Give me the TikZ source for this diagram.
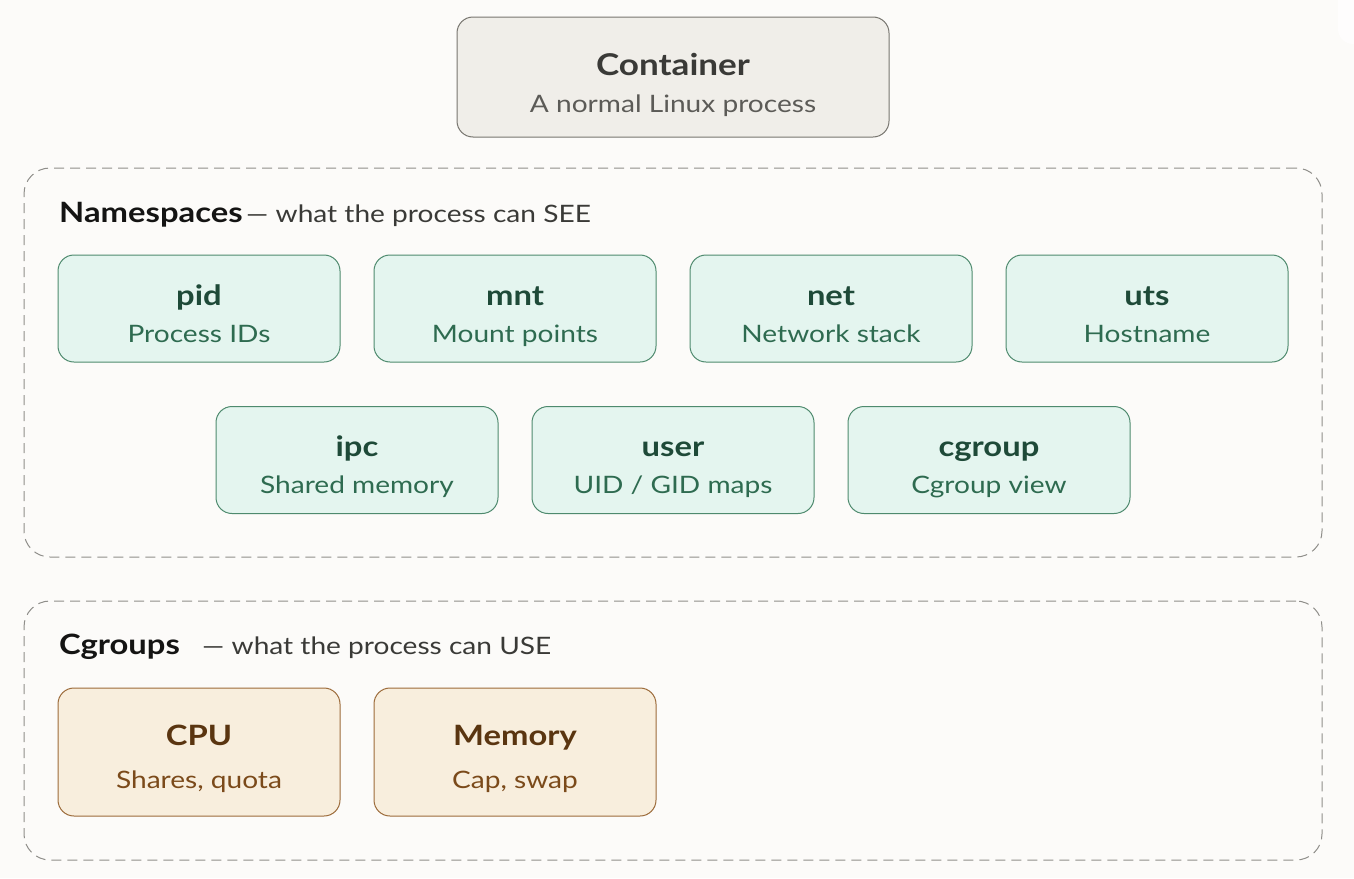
\documentclass[tikz,border=0pt]{standalone}
\usepackage{fontspec}
\setmainfont{Lato}[FakeStretch=1.17]
\definecolor{bg}{HTML}{FCFBF9}
\definecolor{ctfill}{HTML}{F0EEE9}
\definecolor{ctline}{HTML}{77756F}
\definecolor{cttitle}{HTML}{3A3A37}
\definecolor{ctsub}{HTML}{5C5B57}
\definecolor{nsfill}{HTML}{E4F5EF}
\definecolor{nsline}{HTML}{4E8A6E}
\definecolor{nstitle}{HTML}{1E4A38}
\definecolor{nssub}{HTML}{2E6B50}
\definecolor{cgfill}{HTML}{F8EEDD}
\definecolor{cgline}{HTML}{9C6B3A}
\definecolor{cgtitle}{HTML}{5A3510}
\definecolor{cgsub}{HTML}{7B4A1A}
\definecolor{grpline}{HTML}{8F8E8A}
\definecolor{lbl}{HTML}{141413}
\definecolor{lblsub}{HTML}{3A3A37}
\tikzset{
  box/.style={rounded corners=16pt, line width=1pt, minimum width=282pt, minimum height=107pt, inner sep=0pt},
  nsbox/.style={box, draw=nsline, fill=nsfill},
  cgbox/.style={box, draw=cgline, fill=cgfill, minimum height=128pt},
  ctbox/.style={box, draw=ctline, fill=ctfill, minimum width=432pt, minimum height=120pt},
  group/.style={draw=grpline, line width=1pt, dash pattern=on 10pt off 6pt, rounded corners=26pt, minimum width=1298pt, inner sep=0pt},
  ttl/.style={font=\fontsize{28}{30}\selectfont\bfseries, anchor=base, inner sep=0pt},
  sbt/.style={font=\fontsize{24}{26}\selectfont, anchor=base, inner sep=0pt},
  grplbl/.style={font=\fontsize{28}{30}\selectfont\bfseries, text=lbl, anchor=base west, inner sep=0pt},
  grpsub/.style={font=\fontsize{24}{26}\selectfont, text=lblsub, anchor=base west, inner sep=0pt}
}
\newcommand{\nsitem}[5]{%
  \node[nsbox] (#1) at (#2,#3) {};
  \node[ttl, text=nstitle] (#1-t) at (#2,#3-3.5) {#4};
  \node[sbt, text=nssub] (#1-s) at (#2,#3+33.5) {#5};
}
\begin{document}
\begin{tikzpicture}[x=1pt,y=-1pt]
\fill[bg] (0,0) rectangle (1354,878);
\useasboundingbox (0,0) rectangle (1354,878);
\fill[white!60!bg, rounded corners=15pt] (1338,-20) rectangle (1380,44);
% Container
\node[ctbox] (ct) at (673,77) {};
\node[ttl, text=cttitle, font=\fontsize{30}{32}\selectfont\bfseries] (ct-t) at (673,75) {Container};
\node[sbt, text=ctsub] (ct-s) at (673,112) {A normal Linux process};
% Namespaces group
\node[group, minimum height=389pt] (ns) at (673,362.5) {};
\node[grplbl] (ns-l) at (59,222) {Namespaces};
\node[grpsub] (ns-d) at (246,222) {— what the process can SEE};
\nsitem{pid}{199}{308.5}{pid}{Process IDs}
\nsitem{mnt}{515}{308.5}{mnt}{Mount points}
\nsitem{net}{831}{308.5}{net}{Network stack}
\nsitem{uts}{1147}{308.5}{uts}{Hostname}
\nsitem{ipc}{357}{460}{ipc}{Shared memory}
\nsitem{user}{673}{460}{user}{UID / GID maps}
\nsitem{cgv}{989}{460}{cgroup}{Cgroup view}
% Cgroups group
\node[group, minimum height=259pt] (cg) at (673,730.5) {};
\node[grplbl] (cg-l) at (59,654) {Cgroups};
\node[grpsub] (cg-d) at (202,654) {— what the process can USE};
\node[cgbox] (cpu) at (199,752) {};
\node[ttl, text=cgtitle] (cpu-t) at (199,745) {CPU};
\node[sbt, text=cgsub] (cpu-s) at (199,788) {Shares, quota};
\node[cgbox] (mem) at (515,752) {};
\node[ttl, text=cgtitle] (mem-t) at (515,745) {Memory};
\node[sbt, text=cgsub] (mem-s) at (515,788) {Cap, swap};
\end{tikzpicture}
\end{document}
